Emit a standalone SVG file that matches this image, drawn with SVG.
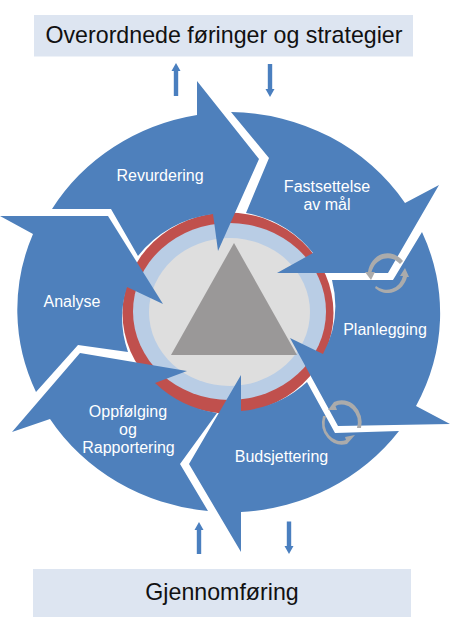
<svg xmlns="http://www.w3.org/2000/svg" width="450" height="632" viewBox="0 0 450 632">
<style>
.seg{fill:#4E80BC}
.lbl{font-family:"Liberation Sans",Arial,sans-serif;font-size:16px;fill:#fff;text-anchor:middle}
.ttl{font-family:"Liberation Sans",Arial,sans-serif;font-size:23.200px;fill:#111;text-anchor:middle}
.box{fill:#DDE5F1}
.sm{fill:#4A7FBF}
.ch{fill:#ABABAB}
</style>
<rect width="450" height="632" fill="#fff"/>
<g id="top-box"><rect class="box" x="34" y="15" width="379" height="41.500"/><text class="ttl" x="224" y="43">Overordnede føringer og strategier</text></g>
<g id="bottom-box"><rect class="box" x="33" y="569" width="378" height="48"/><text class="ttl" x="222" y="600">Gjennomføring</text></g>
<g id="hub">
<ellipse cx="228" cy="313" rx="105.500" ry="100.500" fill="#C0504D"/>
<ellipse cx="229.500" cy="311.500" rx="96.500" ry="88.500" fill="#B9CDE5"/>
<ellipse cx="229.500" cy="312" rx="80.500" ry="74" fill="#DEDEDE"/>
<polygon points="234,243 171,355 297,355" fill="#9A9898"/>
</g>
<g id="revurdering"><path class="seg" d="M52,209 A211,200 0 0 1 197,115 L197,81 L259,159 L218,251 L213,214 A112,107 0 0 0 138,256 L111,209 Z"/><text class="lbl" x="160" y="181">Revurdering</text></g>
<g id="fastsettelse"><path class="seg" d="M231,112 A211,200 0 0 1 405,203 L439,185 L388,273 L277,273 L313,253 A112,107 0 0 0 246,213 L269,158 Z"/><text class="lbl" x="327" y="192">Fastsettelse</text><text class="lbl" x="327" y="210">av mål</text></g>
<g id="planlegging"><path class="seg" d="M422,232 A211,200 0 0 1 416,406 L450,424 L338,426 L290,338 L323,354 A112,107 0 0 0 332,280 L393,280 Z"/><text class="lbl" x="385" y="335">Planlegging</text></g>
<g id="budsjettering"><path class="seg" d="M399,431 A211,200 0 0 1 241,512 L241,552 L189,464 L241,375 L241,411 A112,107 0 0 0 307,382 L335,433 Z"/><text class="lbl" x="281.500" y="462">Budsjettering</text></g>
<g id="oppfolging"><path class="seg" d="M208,511 A211,200 0 0 1 50,419 L12,432 L80,353 L187,371 L155,383 A112,107 0 0 0 217,413 L180,464 Z"/><text class="lbl" x="128" y="417">Oppfølging</text><text class="lbl" x="128" y="435">og</text><text class="lbl" x="128.500" y="453">Rapportering</text></g>
<g id="analyse"><path class="seg" d="M36,392 A211,200 0 0 1 33,234 L0,216 L108,216 L163,304 L127,287 A112,107 0 0 0 128,352 L78,345 Z"/><text class="lbl" x="72" y="307">Analyse</text></g>
<g id="connectors">
<path class="sm" d="M173.800,96 V71 H171.500 L176,63 L180.500,71 H178.200 V96 Z"/>
<path class="sm" d="M267.800,64 V89 H265.500 L270,97 L274.500,89 H272.200 V64 Z"/>
<path class="sm" d="M196.800,554 V530 H194.500 L199,522 L203.500,530 H201.200 V554 Z"/>
<path class="sm" d="M286.800,521.500 V546 H284.500 L289,554 L293.500,546 H291.200 V521.500 Z"/>
<path class="ch" d="M403,261 A20,22 0 0 0 368,272 L365,272 L371,280 L375,272 L371.500,272 A17,19 0 0 1 400,264 Z"/>
<path class="ch" d="M375,288 A20,22 0 0 0 407,277 L409,277 L405,268 L400,276 L403,276 A17,18 0 0 1 376,286 Z"/>
<path class="ch" d="M361,428 A20,22 0 0 0 334,402 L328,410 L337,410 L335.500,406 A16,18 0 0 1 357,428 Z"/>
<path class="ch" d="M323,416 A20,22 0 0 0 347,444 L355,435 L345,437 L346,440 A16,18 0 0 1 326,416 Z"/>
</g>
</svg>
